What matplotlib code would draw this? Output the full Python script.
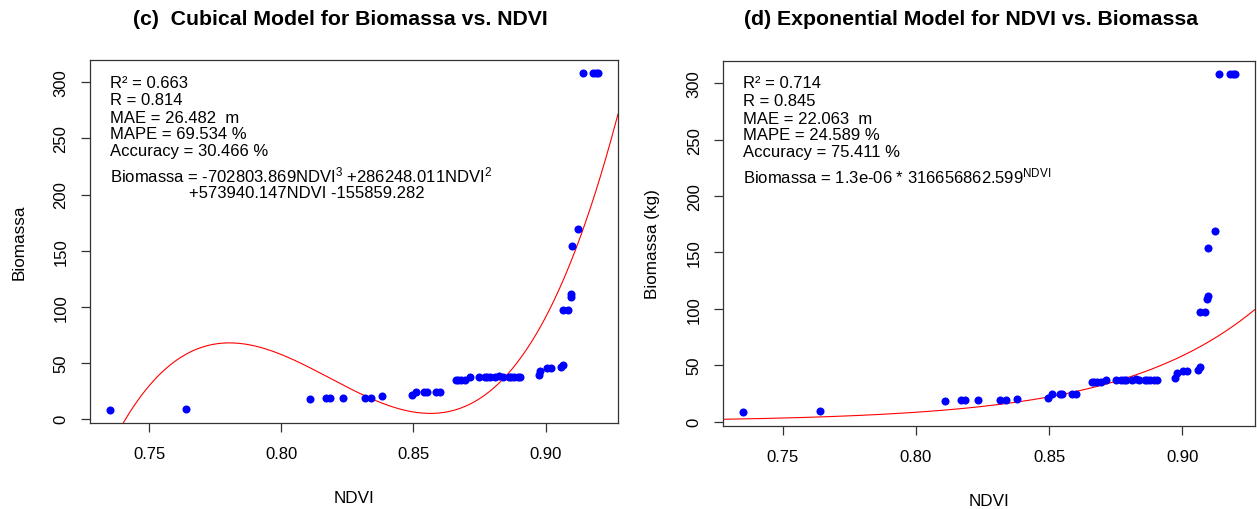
import numpy as np
import matplotlib
matplotlib.use('Agg')
from matplotlib import pyplot as plt

plt.rcParams['font.family'] = ['Liberation Sans', 'DejaVu Sans']
plt.rcParams['mathtext.default'] = 'regular'

# values
ndvi = [0.735, 0.764, 0.811, 0.817, 0.8185, 0.8235, 0.8315, 0.834, 0.838,
        0.8495, 0.851, 0.854, 0.855, 0.8585, 0.860,
        0.866, 0.867, 0.868, 0.8695, 0.8715,
        0.875, 0.877, 0.878, 0.879, 0.881, 0.8825, 0.884, 0.886, 0.887, 0.888, 0.8895, 0.8905,
        0.8975, 0.898, 0.9005, 0.902, 0.906, 0.9067,
        0.9066, 0.9086, 0.9095, 0.9097, 0.9099, 0.9122,
        0.914, 0.918, 0.919, 0.920]
biomassa = [8, 9, 18, 19, 19, 19, 19, 19, 20,
            21, 24, 24, 24, 24, 24,
            35, 35, 35, 35, 37,
            37, 37, 37, 37, 37, 38, 37, 37, 37, 37, 37, 37,
            39, 43, 45, 45, 46, 48,
            97.5, 97.5, 109, 111, 154, 169,
            308, 308, 308, 308]

cubic_coef = [286248.011, -702803.869, 573940.147, -155859.282]
exp_a = 1.3e-06
exp_b = 316656862.599

stats_c = ['R² = 0.663', 'R = 0.814', 'MAE = 26.482  m', 'MAPE = 69.534 %', 'Accuracy = 30.466 %']
stats_d = ['R² = 0.714', 'R = 0.845', 'MAE = 22.063  m', 'MAPE = 24.589 %', 'Accuracy = 75.411 %']
eq_c1 = 'Biomassa = -702803.869NDVI$^{3}$ +286248.011NDVI$^{2}$'
eq_c2 = '+573940.147NDVI -155859.282'
eq_d = 'Biomassa = 1.3e-06 * 316656862.599$^{NDVI}$'

xticks = [0.75, 0.80, 0.85, 0.90]
xticklabels = ['0.75', '0.80', '0.85', '0.90']
yticks = [0, 50, 100, 150, 200, 250, 300]

x = np.array(ndvi)
y = np.array(biomassa)
xlim = (x.min() - 0.04 * np.ptp(x), x.max() + 0.04 * np.ptp(x))
ylim = (y.min() - 0.04 * np.ptp(y), y.max() + 0.04 * np.ptp(y))
xs = np.linspace(xlim[0], xlim[1], 400)

fig = plt.figure(figsize=(12.57, 5.10), dpi=100)
ax1 = fig.add_axes([0.0716, 0.168, 0.4200, 0.7124])
ax2 = fig.add_axes([0.5754, 0.1627, 0.4230, 0.7163])

def style(ax, ylab, title, tx):
    ax.set_xlim(xlim)
    ax.set_ylim(ylim)
    ax.set_xticks(xticks)
    ax.set_xticklabels(xticklabels)
    ax.set_yticks(yticks)
    ax.set_yticklabels([str(v) for v in yticks], rotation=90, va='center')
    ax.tick_params(direction='out', length=6.5, width=0.9, color='#333333',
                   labelsize=12, top=False, right=False)
    ax.tick_params(axis='x', pad=10)
    ax.tick_params(axis='y', pad=9)
    for s in ax.spines.values():
        s.set_color('#333333')
        s.set_linewidth(0.9)
    ax.set_xlabel('NDVI', fontsize=12.3)
    ax.set_ylabel(ylab, fontsize=12.3)
    ax.xaxis.set_label_coords(0.5, -0.205)
    ax.xaxis.label.set_va('center')
    ax.yaxis.set_label_coords(-0.134, 0.5)
    ax.yaxis.label.set_va('center')
    ax.text(tx, 1.115, title, transform=ax.transAxes, ha='center', va='center',
            fontsize=15.3, fontweight='bold')

def stats(ax, lines, ys):
    for t, yy in zip(lines, ys):
        ax.text(0.038, yy, t, transform=ax.transAxes, ha='left', va='center', fontsize=12)

line_y = [0.939, 0.891, 0.842, 0.798, 0.752]

# (c) cubic
ax1.plot(xs, np.polyval(cubic_coef, xs), color='red', lw=0.8)
ax1.plot(x, y, 'o', color='blue', markersize=5.8, markeredgewidth=0)
style(ax1, 'Biomassa', '(c)  Cubical Model for Biomassa vs. NDVI', 0.4735)
stats(ax1, stats_c, line_y)
ax1.text(0.038, 0.684, eq_c1, transform=ax1.transAxes, ha='left', va='center', fontsize=12)
ax1.text(0.187, 0.634, eq_c2, transform=ax1.transAxes, ha='left', va='center', fontsize=12)

# (d) exponential
ax2.plot(xs, exp_a * exp_b ** xs, color='red', lw=0.8)
ax2.plot(x, y, 'o', color='blue', markersize=5.8, markeredgewidth=0)
style(ax2, 'Biomassa (kg)', '(d) Exponential Model for NDVI vs. Biomassa', 0.466)
stats(ax2, stats_d, line_y)
ax2.text(0.038, 0.685, eq_d, transform=ax2.transAxes, ha='left', va='center', fontsize=12)

fig.savefig('out.png', dpi=100)
